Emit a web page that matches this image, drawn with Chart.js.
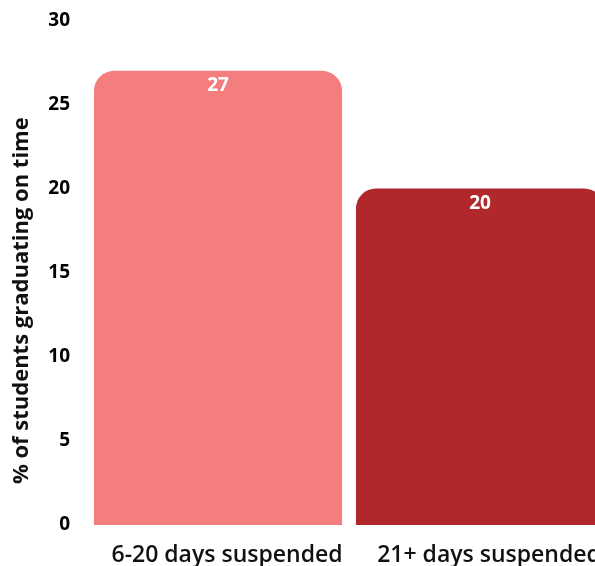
<!DOCTYPE html>
<html>
<head>
<meta charset="utf-8">
<script src="https://cdn.jsdelivr.net/npm/chart.js@4"></script>
<style>
  html, body { margin: 0; padding: 0; background: #fff; overflow: hidden; }
  #wrap { width: 595px; height: 566px; overflow: hidden; }
</style>
</head>
<body>
<div id="wrap"><canvas id="chart" width="611" height="566"></canvas></div>
<script>
var categories = ["6-20 days suspended", "21+ days suspended"];
var values = [27, 20];
var barColors = ["#F47E7E", "#B0282C"];
var yTicks = [0, 5, 10, 15, 20, 25, 30];
var yTitle = "% of students graduating on time";

var fontFamily = "'Open Sans', 'Noto Sans', sans-serif";

// white value labels inside the top of each bar
var valueLabels = {
    id: "valueLabels",
    afterDatasetsDraw: function (chart) {
        var ctx = chart.ctx;
        var meta = chart.getDatasetMeta(0);
        ctx.save();
        ctx.fillStyle = "#fff";
        ctx.font = "bold 19px " + fontFamily;
        ctx.textAlign = "center";
        ctx.textBaseline = "middle";
        meta.data.forEach(function (bar, i) {
            ctx.fillText(values[i], bar.x, bar.y + 15);
        });
        ctx.restore();
    }
};

// y axis title, sits a bit below the middle of the plot like the original
var sideTitle = {
    id: "sideTitle",
    afterDraw: function (chart) {
        var ctx = chart.ctx;
        var area = chart.chartArea;
        ctx.save();
        ctx.translate(22, (area.top + area.bottom) / 2 + 28);
        ctx.rotate(-Math.PI / 2);
        ctx.fillStyle = "#111";
        ctx.font = "bold 22px " + fontFamily;
        ctx.textAlign = "center";
        ctx.textBaseline = "middle";
        ctx.fillText(yTitle, 0, 0);
        ctx.restore();
    }
};

window.onload = function () {
    var ctx = document.getElementById("chart").getContext("2d");
    new Chart(ctx, {
        type: "bar",
        data: {
            labels: categories,
            datasets: [{
                data: values,
                backgroundColor: barColors,
                borderRadius: { topLeft: 20, topRight: 20 },
                borderSkipped: "bottom",
                barPercentage: 0.947,
                categoryPercentage: 1
            }]
        },
        options: {
            responsive: false,
            animation: false,
            layout: { padding: { top: 20, left: 0, right: 0, bottom: 0 } },
            plugins: {
                legend: { display: false },
                tooltip: { enabled: false }
            },
            scales: {
                x: {
                    grid: { display: false },
                    border: { display: false },
                    ticks: {
                        color: "#111",
                        font: { family: fontFamily, size: 23, weight: "600" },
                        padding: 9,
                        labelOffset: 9
                    },
                    afterFit: function (axis) { axis.height = 41; }
                },
                y: {
                    min: 0,
                    max: 30,
                    grid: { display: false },
                    border: { display: false },
                    afterBuildTicks: function (axis) {
                        axis.ticks = yTicks.map(function (v) { return { value: v }; });
                    },
                    ticks: {
                        color: "#000",
                        font: { family: fontFamily, size: 19, weight: "bold" },
                        padding: 9
                    },
                    afterFit: function (axis) { axis.width = 87; }
                }
            }
        },
        plugins: [valueLabels, sideTitle]
    });
};
</script>
</body>
</html>
